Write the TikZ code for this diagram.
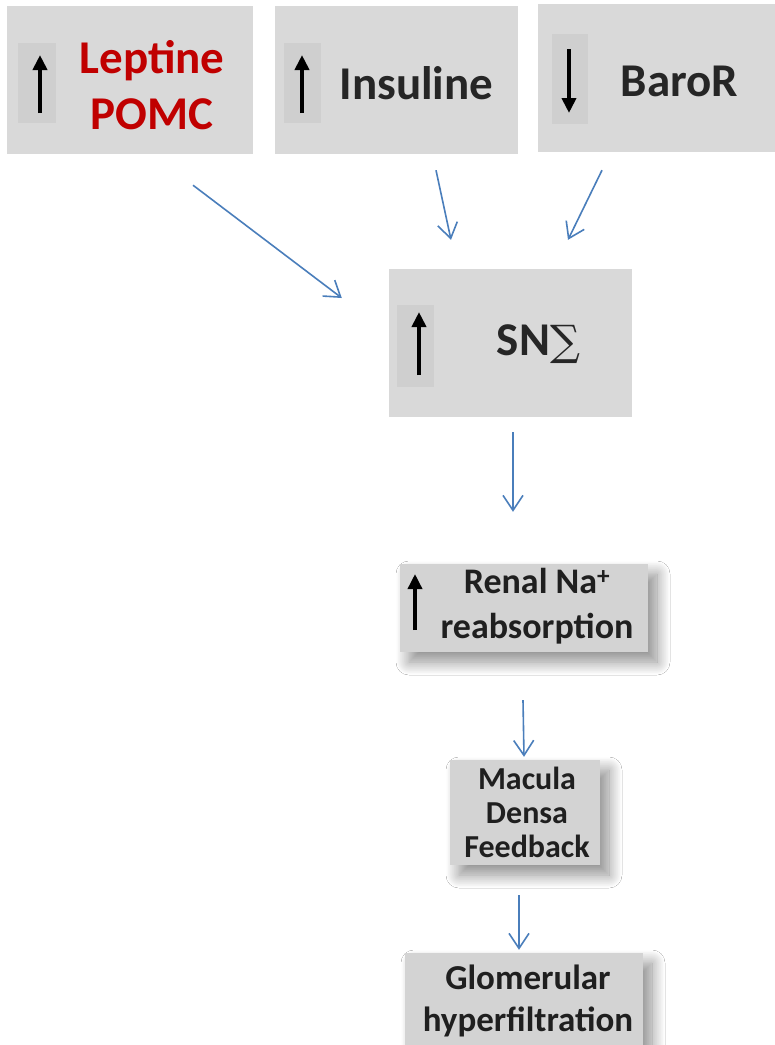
\documentclass[tikz,border=0pt]{standalone}
\usepackage{fontspec}
\setmainfont{Carlito}
\newfontfamily\sumfont{DejaVu Serif}
\usetikzlibrary{positioning,arrows.meta,shadows.blur}
\definecolor{boxgray}{HTML}{D9D9D9}
\definecolor{chipgray}{HTML}{D3D3D3}
\definecolor{stripgray}{HTML}{CFCFCF}
\definecolor{flowblue}{HTML}{4A7EBB}
\definecolor{leptred}{HTML}{C00000}
\definecolor{inkgray}{HTML}{262626}

\begin{document}
\begin{tikzpicture}[x=1pt, y=-1pt,
    box/.style={fill=boxgray, minimum width=243pt, minimum height=148pt, inner sep=0pt},
    chip/.style={fill=chipgray, inner sep=0pt,
        blur shadow={shadow xshift=9pt, shadow yshift=-10pt, shadow blur radius=13pt,
                     shadow blur steps=20, shadow opacity=45}},
    bigtxt/.style={text=inkgray, font=\fontsize{47}{56}\selectfont\bfseries, align=center},
    chiptxt/.style={text=black!88, align=center},
    flow/.style={draw=flowblue, line width=1.6pt, -{Straight Barb[length=15pt,width=20pt]}},
    rise/.style={draw=black, line width=4.5pt, -{Triangle[length=15pt,width=14pt]}}]

    \useasboundingbox (0,0) rectangle (775,1045);
    \fill[white] (0,0) rectangle (775,1045);

    % top row
    \node[box, minimum width=246pt] (lep) at (130,80) {};
    \node[box] (ins) at (396.5,80) {};
    \node[box, minimum width=237pt] (baro) at (656.5,78) {};
    \node[box] (sns) at (510.5,343) {};

    % shaded chips below
    \node[chip, minimum width=248pt, minimum height=88pt] (renal) at (524,608) {};
    \node[chip, minimum width=150pt, minimum height=105pt] (macula) at (525,812.5) {};
    \node[chip, minimum width=238pt, minimum height=96pt] (glom) at (524,1001) {};

    % strips behind the up/down marks
    \fill[stripgray] ([shift={(-112,-37)}]lep.center) rectangle ([shift={(-74,43)}]lep.center);
    \fill[stripgray] ([shift={(-112.5,-37)}]ins.center) rectangle ([shift={(-75.5,43)}]ins.center);
    \fill[stripgray] ([shift={(-104.5,-44)}]baro.center) rectangle ([shift={(-68.5,46)}]baro.center);
    \fill[stripgray] ([shift={(-113.5,-38)}]sns.center) rectangle ([shift={(-76.5,44)}]sns.center);

    \draw[rise] ([shift={(-90,33)}]lep.center) -- ([shift={(-90,-25)}]lep.center);
    \draw[rise] ([shift={(-94.5,33)}]ins.center) -- ([shift={(-94.5,-25)}]ins.center);
    \draw[rise] ([shift={(-87.5,-29)}]baro.center) -- ([shift={(-87.5,35)}]baro.center);
    \draw[rise] ([shift={(-91.5,32)}]sns.center) -- ([shift={(-91.5,-31)}]sns.center);
    \draw[rise, line width=3.5pt] ([shift={(-109,22)}]renal.center) -- ([shift={(-109,-34)}]renal.center);

    % labels
    \node[bigtxt, text=leptred] (leptxt) at ([shift={(22,5)}]lep.center) {Leptine\\POMC};
    \node[bigtxt] (instxt) at ([shift={(20,3)}]ins.center) {Insuline};
    \node[bigtxt] (barotxt) at ([shift={(23,3)}]baro.center) {BaroR};
    \node[bigtxt] (snstxt) at ([shift={(28,1)}]sns.center) {SN{\sumfont\mdseries\fontsize{42}{42}\selectfont ∑}};
    \node[chiptxt, font=\fontsize{36}{45}\selectfont\bfseries] (renaltxt)
        at ([shift={(13,-2)}]renal.center) {Renal Na\textsuperscript{+}\\reabsorption};
    \node[chiptxt, font=\fontsize{32}{34}\selectfont\bfseries] (maculatxt)
        at ([shift={(2,0)}]macula.center) {Macula\\Densa\\Feedback};
    \node[chiptxt, font=\fontsize{35}{42}\selectfont\bfseries] (glomtxt)
        at ([shift={(4,0)}]glom.center) {Glomerular\\hyperfiltration};

    % connectors
    \draw[flow] ([shift={(63,31)}]lep.south) -- ([shift={(-47,-45)}]sns.west);
    \draw[flow] ([shift={(39.5,16)}]ins.south) -- ([shift={(-59.5,-29)}]sns.north);
    \draw[flow] ([shift={(-54.5,18)}]baro.south) -- ([shift={(57.5,-29)}]sns.north);
    \draw[flow] ([shift={(2.5,15)}]sns.south) -- ([shift={(-11,-52)}]renal.north);
    \draw[flow] ([shift={(-1,48)}]renal.south) -- ([shift={(-1,-3)}]macula.north);
    \draw[flow] ([shift={(-6,30)}]macula.south) -- ([shift={(-5,-3)}]glom.north);
\end{tikzpicture}
\end{document}
